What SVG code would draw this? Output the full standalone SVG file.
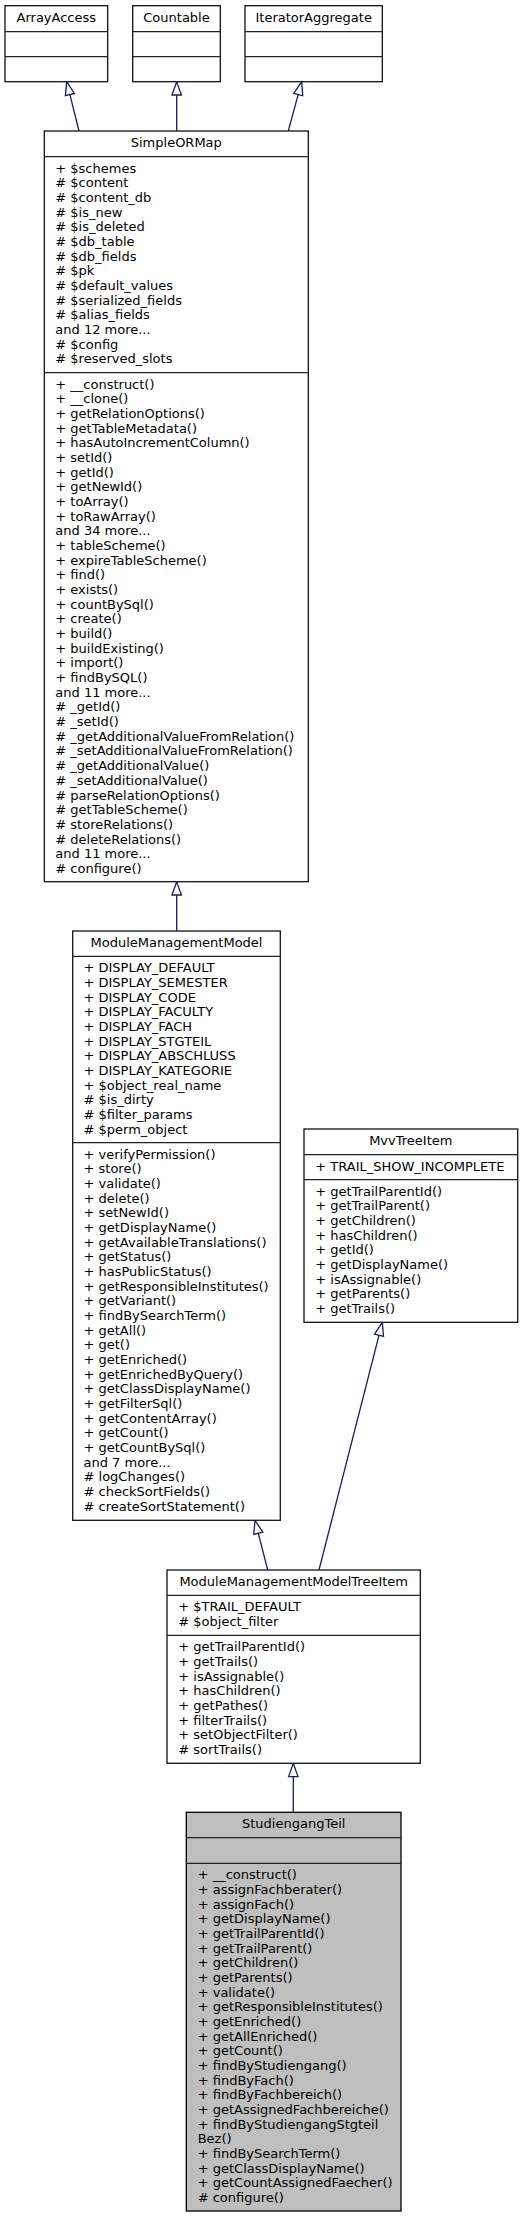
<svg xmlns="http://www.w3.org/2000/svg" width="523" height="2217" viewBox="0 0 523 2217">
<style>
  .box { fill: #ffffff; stroke: #111111; stroke-width: 1.3; }
  .cur { fill: #bfbfbf; stroke: #000000; stroke-width: 1.3; }
  .sep { stroke: #222222; stroke-width: 1.3; }
  text { font-family: "DejaVu Sans", "Liberation Sans", sans-serif; font-size: 13px; fill: #000000; }
  .t { text-anchor: middle; }
  .edge { fill: none; stroke: #191970; stroke-width: 1.3; }
</style>
<defs>
  <marker id="inh" markerUnits="userSpaceOnUse" markerWidth="16" markerHeight="12" refX="13.3" refY="4.67" orient="auto" overflow="visible">
    <path d="M0,0 L13.3,4.67 L0,9.33 Z" fill="#ffffff" stroke="#191970" stroke-width="1.3"/>
  </marker>
</defs>
<rect width="523" height="2217" fill="#ffffff"/>

<g id="connectors">
  <path class="edge" d="M79,131 L66.7,81.7" marker-end="url(#inh)"/>
  <path class="edge" d="M176.7,131 L176.7,81.7" marker-end="url(#inh)"/>
  <path class="edge" d="M288.3,131 L301.7,81.7" marker-end="url(#inh)"/>
  <path class="edge" d="M176.7,931 L176.7,881.7" marker-end="url(#inh)"/>
  <path class="edge" d="M267.7,1570 L255,1520.3" marker-end="url(#inh)"/>
  <path class="edge" d="M319,1570 L382.3,1322.3" marker-end="url(#inh)"/>
  <path class="edge" d="M293.3,1812.3 L293.3,1763.3" marker-end="url(#inh)"/>
</g>

<g id="ArrayAccess">
  <rect class="box" x="5" y="5.7" width="102.7" height="76"/>
  <line class="sep" x1="5" y1="31.7" x2="107.7" y2="31.7"/>
  <line class="sep" x1="5" y1="56.7" x2="107.7" y2="56.7"/>
  <text class="t" x="56.3" y="21.7">ArrayAccess</text>
</g>

<g id="Countable">
  <rect class="box" x="132.7" y="5.7" width="87.6" height="76"/>
  <line class="sep" x1="132.7" y1="31.7" x2="220.3" y2="31.7"/>
  <line class="sep" x1="132.7" y1="56.7" x2="220.3" y2="56.7"/>
  <text class="t" x="176.5" y="21.7">Countable</text>
</g>

<g id="IteratorAggregate">
  <rect class="box" x="245" y="5.7" width="137.3" height="76"/>
  <line class="sep" x1="245" y1="31.7" x2="382.3" y2="31.7"/>
  <line class="sep" x1="245" y1="56.7" x2="382.3" y2="56.7"/>
  <text class="t" x="313.7" y="21.7">IteratorAggregate</text>
</g>

<g id="SimpleORMap">
  <rect class="box" x="44.3" y="131" width="264" height="750.7"/>
  <line class="sep" x1="44.3" y1="156.7" x2="308.3" y2="156.7"/>
  <line class="sep" x1="44.3" y1="372.7" x2="308.3" y2="372.7"/>
  <text class="t" x="176.3" y="147">SimpleORMap</text>
  <text x="55.3" y="172.7">+ $schemes</text>
  <text x="55.3" y="187.4"># $content</text>
  <text x="55.3" y="202.0"># $content_db</text>
  <text x="55.3" y="216.7"># $is_new</text>
  <text x="55.3" y="231.4"># $is_deleted</text>
  <text x="55.3" y="246.0"># $db_table</text>
  <text x="55.3" y="260.7"># $db_fields</text>
  <text x="55.3" y="275.4"># $pk</text>
  <text x="55.3" y="290.1"># $default_values</text>
  <text x="55.3" y="304.7"># $serialized_fields</text>
  <text x="55.3" y="319.4"># $alias_fields</text>
  <text x="55.3" y="334.1">and 12 more...</text>
  <text x="55.3" y="348.7"># $config</text>
  <text x="55.3" y="363.4"># $reserved_slots</text>
  <text x="55.3" y="388.7">+ __construct()</text>
  <text x="55.3" y="403.4">+ __clone()</text>
  <text x="55.3" y="418.0">+ getRelationOptions()</text>
  <text x="55.3" y="432.7">+ getTableMetadata()</text>
  <text x="55.3" y="447.4">+ hasAutoIncrementColumn()</text>
  <text x="55.3" y="462.0">+ setId()</text>
  <text x="55.3" y="476.7">+ getId()</text>
  <text x="55.3" y="491.4">+ getNewId()</text>
  <text x="55.3" y="506.1">+ toArray()</text>
  <text x="55.3" y="520.7">+ toRawArray()</text>
  <text x="55.3" y="535.4">and 34 more...</text>
  <text x="55.3" y="550.1">+ tableScheme()</text>
  <text x="55.3" y="564.7">+ expireTableScheme()</text>
  <text x="55.3" y="579.4">+ find()</text>
  <text x="55.3" y="594.1">+ exists()</text>
  <text x="55.3" y="608.7">+ countBySql()</text>
  <text x="55.3" y="623.4">+ create()</text>
  <text x="55.3" y="638.1">+ build()</text>
  <text x="55.3" y="652.8">+ buildExisting()</text>
  <text x="55.3" y="667.4">+ import()</text>
  <text x="55.3" y="682.1">+ findBySQL()</text>
  <text x="55.3" y="696.8">and 11 more...</text>
  <text x="55.3" y="711.4"># _getId()</text>
  <text x="55.3" y="726.1"># _setId()</text>
  <text x="55.3" y="740.8"># _getAdditionalValueFromRelation()</text>
  <text x="55.3" y="755.4"># _setAdditionalValueFromRelation()</text>
  <text x="55.3" y="770.1"># _getAdditionalValue()</text>
  <text x="55.3" y="784.8"># _setAdditionalValue()</text>
  <text x="55.3" y="799.5"># parseRelationOptions()</text>
  <text x="55.3" y="814.1"># getTableScheme()</text>
  <text x="55.3" y="828.8"># storeRelations()</text>
  <text x="55.3" y="843.5"># deleteRelations()</text>
  <text x="55.3" y="858.1">and 11 more...</text>
  <text x="55.3" y="872.8"># configure()</text>
</g>

<g id="ModuleManagementModel">
  <rect class="box" x="72.7" y="931" width="207.6" height="589.3"/>
  <line class="sep" x1="72.7" y1="956.3" x2="280.3" y2="956.3"/>
  <line class="sep" x1="72.7" y1="1142.7" x2="280.3" y2="1142.7"/>
  <text class="t" x="176.5" y="947">ModuleManagementModel</text>
  <text x="83.5" y="972.3">+ DISPLAY_DEFAULT</text>
  <text x="83.5" y="987.0">+ DISPLAY_SEMESTER</text>
  <text x="83.5" y="1001.6">+ DISPLAY_CODE</text>
  <text x="83.5" y="1016.3">+ DISPLAY_FACULTY</text>
  <text x="83.5" y="1031.0">+ DISPLAY_FACH</text>
  <text x="83.5" y="1045.7">+ DISPLAY_STGTEIL</text>
  <text x="83.5" y="1060.3">+ DISPLAY_ABSCHLUSS</text>
  <text x="83.5" y="1075.0">+ DISPLAY_KATEGORIE</text>
  <text x="83.5" y="1089.7">+ $object_real_name</text>
  <text x="83.5" y="1104.3"># $is_dirty</text>
  <text x="83.5" y="1119.0"># $filter_params</text>
  <text x="83.5" y="1133.7"># $perm_object</text>
  <text x="83.5" y="1158.7">+ verifyPermission()</text>
  <text x="83.5" y="1173.4">+ store()</text>
  <text x="83.5" y="1188.0">+ validate()</text>
  <text x="83.5" y="1202.7">+ delete()</text>
  <text x="83.5" y="1217.4">+ setNewId()</text>
  <text x="83.5" y="1232.0">+ getDisplayName()</text>
  <text x="83.5" y="1246.7">+ getAvailableTranslations()</text>
  <text x="83.5" y="1261.4">+ getStatus()</text>
  <text x="83.5" y="1276.1">+ hasPublicStatus()</text>
  <text x="83.5" y="1290.7">+ getResponsibleInstitutes()</text>
  <text x="83.5" y="1305.4">+ getVariant()</text>
  <text x="83.5" y="1320.1">+ findBySearchTerm()</text>
  <text x="83.5" y="1334.7">+ getAll()</text>
  <text x="83.5" y="1349.4">+ get()</text>
  <text x="83.5" y="1364.1">+ getEnriched()</text>
  <text x="83.5" y="1378.7">+ getEnrichedByQuery()</text>
  <text x="83.5" y="1393.4">+ getClassDisplayName()</text>
  <text x="83.5" y="1408.1">+ getFilterSql()</text>
  <text x="83.5" y="1422.8">+ getContentArray()</text>
  <text x="83.5" y="1437.4">+ getCount()</text>
  <text x="83.5" y="1452.1">+ getCountBySql()</text>
  <text x="83.5" y="1466.8">and 7 more...</text>
  <text x="83.5" y="1481.4"># logChanges()</text>
  <text x="83.5" y="1496.1"># checkSortFields()</text>
  <text x="83.5" y="1510.8"># createSortStatement()</text>
</g>

<g id="MvvTreeItem">
  <rect class="box" x="304" y="1129" width="213.7" height="193.3"/>
  <line class="sep" x1="304" y1="1154.7" x2="517.7" y2="1154.7"/>
  <line class="sep" x1="304" y1="1179.7" x2="517.7" y2="1179.7"/>
  <text class="t" x="410.8" y="1145">MvvTreeItem</text>
  <text x="315.3" y="1170.7">+ TRAIL_SHOW_INCOMPLETE</text>
  <text x="315.3" y="1195.7">+ getTrailParentId()</text>
  <text x="315.3" y="1210.4">+ getTrailParent()</text>
  <text x="315.3" y="1225.0">+ getChildren()</text>
  <text x="315.3" y="1239.7">+ hasChildren()</text>
  <text x="315.3" y="1254.4">+ getId()</text>
  <text x="315.3" y="1269.0">+ getDisplayName()</text>
  <text x="315.3" y="1283.7">+ isAssignable()</text>
  <text x="315.3" y="1298.4">+ getParents()</text>
  <text x="315.3" y="1313.0">+ getTrails()</text>
</g>

<g id="ModuleManagementModelTreeItem">
  <rect class="box" x="167" y="1570" width="253.3" height="193.3"/>
  <line class="sep" x1="167" y1="1595.3" x2="420.3" y2="1595.3"/>
  <line class="sep" x1="167" y1="1635.3" x2="420.3" y2="1635.3"/>
  <text class="t" x="293.7" y="1586">ModuleManagementModelTreeItem</text>
  <text x="178.3" y="1611.3">+ $TRAIL_DEFAULT</text>
  <text x="178.3" y="1626.0"># $object_filter</text>
  <text x="178.3" y="1651.3">+ getTrailParentId()</text>
  <text x="178.3" y="1666.0">+ getTrails()</text>
  <text x="178.3" y="1680.6">+ isAssignable()</text>
  <text x="178.3" y="1695.3">+ hasChildren()</text>
  <text x="178.3" y="1710.0">+ getPathes()</text>
  <text x="178.3" y="1724.6">+ filterTrails()</text>
  <text x="178.3" y="1739.3">+ setObjectFilter()</text>
  <text x="178.3" y="1754.0"># sortTrails()</text>
</g>

<g id="StudiengangTeil">
  <rect class="cur" x="186.3" y="1812.3" width="214.7" height="398.7"/>
  <line class="sep" x1="186.3" y1="1837.7" x2="401" y2="1837.7"/>
  <line class="sep" x1="186.3" y1="1863.3" x2="401" y2="1863.3"/>
  <text class="t" x="293.7" y="1828.3">StudiengangTeil</text>
  <text x="197.7" y="1879.3">+ __construct()</text>
  <text x="197.7" y="1894.0">+ assignFachberater()</text>
  <text x="197.7" y="1908.6">+ assignFach()</text>
  <text x="197.7" y="1923.3">+ getDisplayName()</text>
  <text x="197.7" y="1938.0">+ getTrailParentId()</text>
  <text x="197.7" y="1952.7">+ getTrailParent()</text>
  <text x="197.7" y="1967.3">+ getChildren()</text>
  <text x="197.7" y="1982.0">+ getParents()</text>
  <text x="197.7" y="1996.7">+ validate()</text>
  <text x="197.7" y="2011.3">+ getResponsibleInstitutes()</text>
  <text x="197.7" y="2026.0">+ getEnriched()</text>
  <text x="197.7" y="2040.7">+ getAllEnriched()</text>
  <text x="197.7" y="2055.3">+ getCount()</text>
  <text x="197.7" y="2070.0">+ findByStudiengang()</text>
  <text x="197.7" y="2084.7">+ findByFach()</text>
  <text x="197.7" y="2099.4">+ findByFachbereich()</text>
  <text x="197.7" y="2114.0">+ getAssignedFachbereiche()</text>
  <text x="197.7" y="2128.7">+ findByStudiengangStgteil</text>
  <text x="197.7" y="2143.4">Bez()</text>
  <text x="197.7" y="2158.0">+ findBySearchTerm()</text>
  <text x="197.7" y="2172.7">+ getClassDisplayName()</text>
  <text x="197.7" y="2187.4">+ getCountAssignedFaecher()</text>
  <text x="197.7" y="2202.0"># configure()</text>
</g>
</svg>
